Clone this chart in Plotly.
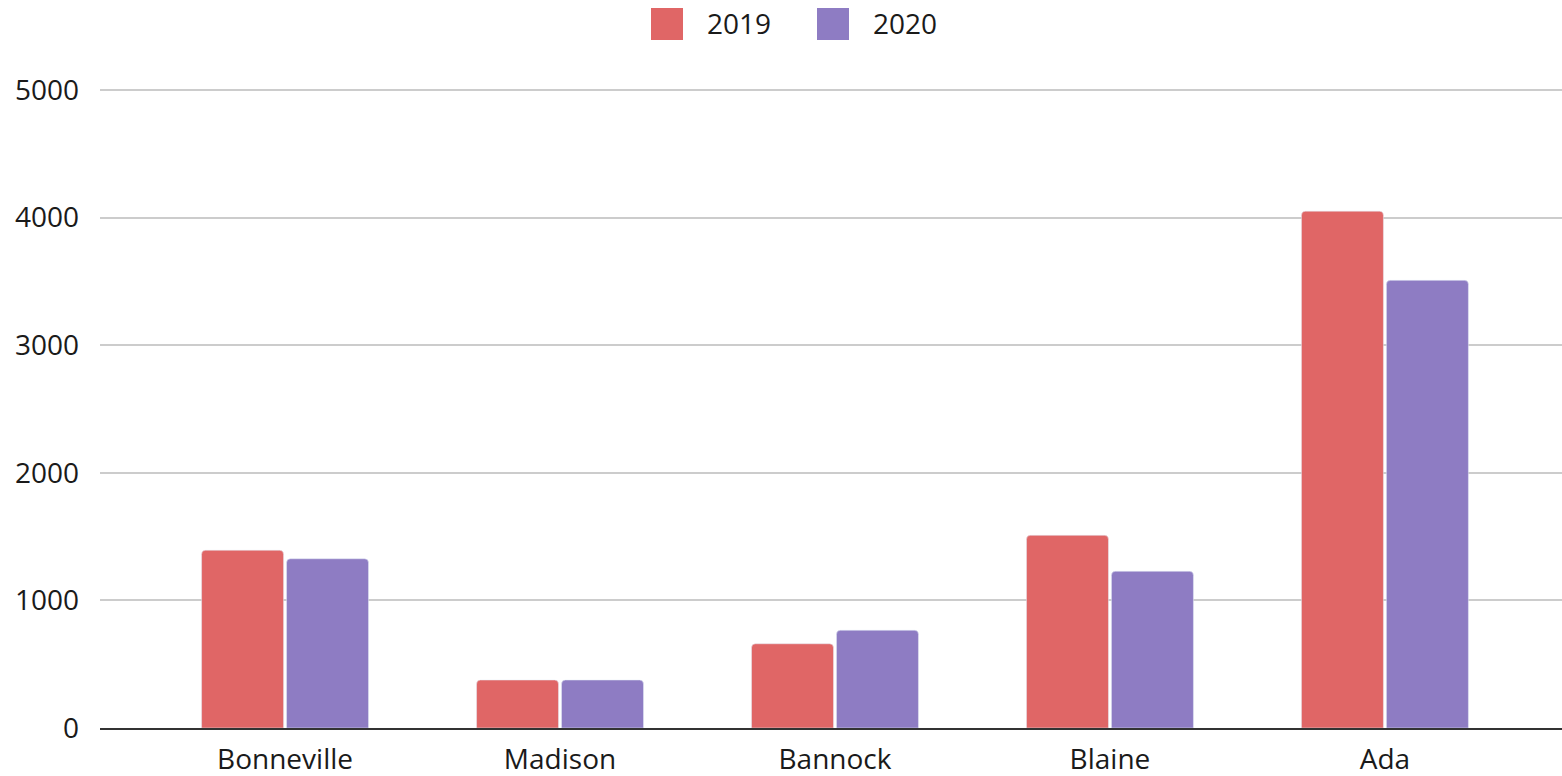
import plotly.graph_objects as go

counties = ["Bonneville", "Madison", "Bannock", "Blaine", "Ada"]
values_2019 = [1393, 376, 660, 1510, 4050]
values_2020 = [1326, 376, 766, 1228, 3508]

RED = "#e06666"
PURPLE = "#8e7cc3"
FONT = "Open Sans"

fig = go.Figure()
fig.add_trace(go.Bar(x=counties, y=values_2019, name="2019", marker_color=RED))
fig.add_trace(go.Bar(x=counties, y=values_2020, name="2020", marker_color=PURPLE))

# legend drawn by hand so the swatches can be big like the reference
legend_items = [("2019", RED, 651), ("2020", PURPLE, 817)]
for label, color, x0 in legend_items:
    fig.add_shape(
        type="rect", xref="paper", yref="paper",
        x0=(x0 - 100) / 1462, x1=(x0 + 32 - 100) / 1462,
        y0=(728 - 40) / 640, y1=(728 - 8) / 640,
        fillcolor=color, line_width=0, layer="above",
    )
    fig.add_annotation(
        text=label, xref="paper", yref="paper",
        x=(x0 + 54 - 100) / 1462, y=(728 - 23) / 640,
        xanchor="left", yanchor="middle", showarrow=False,
        font=dict(family=FONT, size=28, color="#1a1a1a"),
    )

fig.update_layout(
    width=1562, height=776,
    margin=dict(l=100, r=0, t=88, b=48),
    plot_bgcolor="white", paper_bgcolor="white",
    barmode="group", bargap=0.382, bargroupgap=0.035,
    barcornerradius=4,
    showlegend=False,
    font=dict(family=FONT, size=28, color="#1a1a1a"),
)
fig.update_xaxes(
    range=[-0.673, 4.644],
    showline=True, linecolor="#333", linewidth=2,
    showgrid=False, ticks="", ticklabelstandoff=5,
)
fig.update_yaxes(
    range=[0, 5015], tickvals=[0, 1000, 2000, 3000, 4000, 5000],
    showgrid=True, gridcolor="#cccccc", gridwidth=2,
    zeroline=False, ticklabelstandoff=20,
)

fig.write_html(
    "out.html",
    config={"displayModeBar": False},
    post_script="document.body.style.margin='0';",
)
